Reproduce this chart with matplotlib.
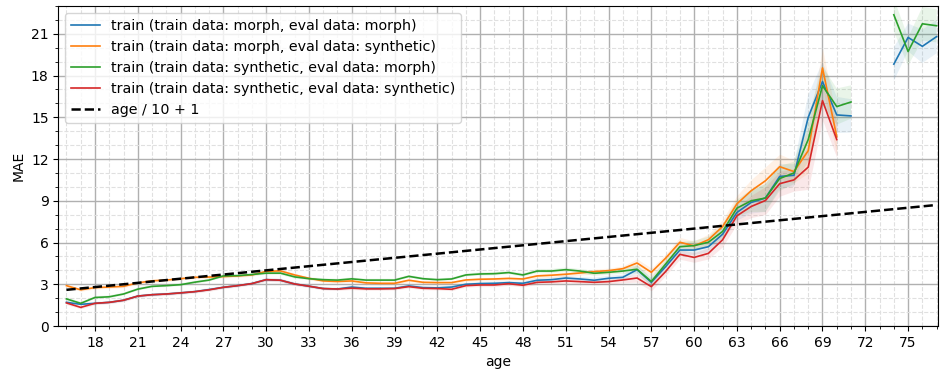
import numpy as np
import matplotlib
matplotlib.use("Agg")
import matplotlib.pyplot as plt
from matplotlib.ticker import MultipleLocator

nan = np.nan

# ages 16..77
ages = list(range(16, 78))

morph_morph = [1.7, 1.56, 1.63, 1.7, 1.85, 2.15, 2.25, 2.3, 2.38, 2.47, 2.62,
               2.78, 2.9, 3.05, 3.33, 3.29, 3.02, 2.86, 2.69, 2.66, 2.8,
               2.71, 2.71, 2.71, 2.88, 2.76, 2.74, 2.8, 3.0, 3.05, 3.07,
               3.12, 3.07, 3.29, 3.33, 3.45, 3.38, 3.29, 3.43, 3.5, 4.05,
               3.14, 4.26, 5.46, 5.46, 5.7, 6.6, 8.16, 8.88, 9.2, 10.75,
               10.83, 15.0, 17.57, 15.17, 15.1, nan, nan, 18.82, 20.74, 20.1, 20.8]
morph_synth = [2.9, 2.6, 2.76, 2.8, 2.85, 3.1, 3.25, 3.3, 3.4, 3.5, 3.52,
               3.55, 3.6, 3.67, 3.93, 3.96, 3.67, 3.43, 3.24, 3.2, 3.24,
               3.1, 3.07, 3.07, 3.29, 3.14, 3.12, 3.12, 3.31, 3.36, 3.38,
               3.42, 3.38, 3.6, 3.65, 3.72, 3.81, 3.91, 3.98, 4.12, 4.53,
               3.86, 4.87, 6.02, 5.76, 6.2, 7.15, 8.78, 9.72, 10.44, 11.45,
               11.1, 12.6, 18.55, 13.6, nan, nan, nan, nan, nan, nan, nan]
synth_morph = [1.95, 1.63, 2.05, 2.1, 2.3, 2.65, 2.85, 2.9, 2.97, 3.15, 3.3,
               3.6, 3.62, 3.7, 3.8, 3.8, 3.53, 3.4, 3.33, 3.3, 3.39,
               3.3, 3.3, 3.3, 3.57, 3.4, 3.33, 3.38, 3.67, 3.74, 3.76,
               3.84, 3.67, 3.95, 3.95, 4.05, 3.95, 3.79, 3.86, 3.95, 4.08,
               3.2, 4.45, 5.7, 5.78, 6.02, 6.8, 8.47, 9.0, 9.2, 10.6,
               11.0, 13.4, 17.27, 15.77, 16.1, nan, nan, 22.37, 19.73, 21.72, 21.58]
synth_synth = [1.66, 1.34, 1.63, 1.7, 1.85, 2.15, 2.25, 2.3, 2.38, 2.47, 2.6,
               2.78, 2.9, 3.05, 3.33, 3.29, 3.02, 2.86, 2.69, 2.66, 2.72,
               2.67, 2.67, 2.69, 2.83, 2.71, 2.69, 2.64, 2.9, 2.95, 2.95,
               3.04, 2.93, 3.14, 3.17, 3.24, 3.19, 3.14, 3.19, 3.31, 3.45,
               2.83, 3.91, 5.15, 4.93, 5.22, 6.2, 7.92, 8.59, 9.02, 10.23,
               10.5, 11.42, 16.2, 13.4, nan, nan, nan, nan, nan, nan, nan]

# half width of the shaded band around each line, per age
spread = [0.12, 0.1, 0.1, 0.1, 0.1, 0.1, 0.1, 0.1, 0.1, 0.1, 0.1,
          0.1, 0.1, 0.1, 0.12, 0.12, 0.12, 0.1, 0.1, 0.1, 0.1,
          0.1, 0.1, 0.1, 0.1, 0.1, 0.1, 0.1, 0.1, 0.12, 0.12,
          0.12, 0.12, 0.15, 0.15, 0.15, 0.15, 0.18, 0.18, 0.2, 0.3,
          0.3, 0.3, 0.35, 0.35, 0.4, 0.5, 0.6, 0.8, 1.0, 0.9,
          0.8, 1.6, 1.4, 1.3, 1.2, nan, nan, 1.2, 1.0, 1.2, 1.2]

labels = ["train (train data: morph, eval data: morph)",
          "train (train data: morph, eval data: synthetic)",
          "train (train data: synthetic, eval data: morph)",
          "train (train data: synthetic, eval data: synthetic)"]
series = [morph_morph, morph_synth, synth_morph, synth_synth]
colors = ["tab:blue", "tab:orange", "tab:green", "tab:red"]

x = np.array(ages)
sp = np.array(spread)

fig, ax = plt.subplots(figsize=(9.42, 3.74), dpi=100)
fig.subplots_adjust(left=0.0619, right=0.9958, top=0.984, bottom=0.1283)

for vals, lab, col in zip(series, labels, colors):
    y = np.array(vals)
    ax.fill_between(x, y - sp, y + sp, color=col, alpha=0.1, linewidth=0)
    ax.plot(x, y, color=col, linewidth=1.2, label=lab)

ax.plot(x, x / 10 + 1, "k--", linewidth=1.8, label="age / 10 + 1")

ax.set_xlim(15.43, 77.1)
ax.set_ylim(0, 23.0)
ax.xaxis.set_major_locator(MultipleLocator(3))
ax.xaxis.set_minor_locator(MultipleLocator(1))
ax.yaxis.set_major_locator(MultipleLocator(3))
ax.yaxis.set_minor_locator(MultipleLocator(1))
ax.grid(True, which="major", color="#b0b0b0", linewidth=1.0)
ax.grid(True, which="minor", color="#e0e0e0", linestyle="--", linewidth=0.8)
ax.set_axisbelow(True)

ax.set_xlabel("age")
ax.set_ylabel("MAE")
ax.legend(loc="upper left", fontsize=10.25)

fig.savefig("out.png", dpi=100)
